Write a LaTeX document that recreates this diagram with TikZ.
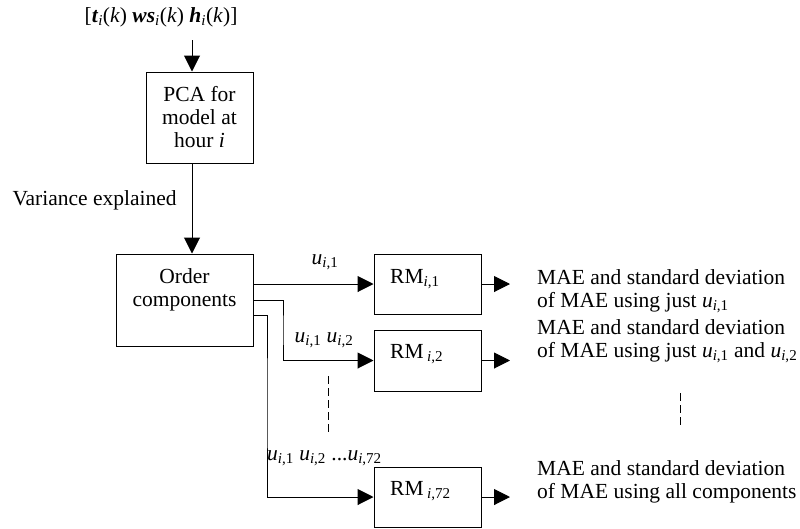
\documentclass[tikz,border=0pt]{standalone}
\usepackage{fontspec}
\setmainfont{Liberation Serif}
\usetikzlibrary{arrows.meta}
\newcommand\myu[1]{\textit{u}\textsubscript{\textit{i},#1}}
\newcommand\bi[1]{\textbf{\textit{#1}}}
\begin{document}
\begin{tikzpicture}[x=1pt,y=-1pt,
  every node/.style={font=\fontsize{21.5}{23}\selectfont},
  blk/.style={draw,line width=1pt,inner sep=0pt},
  conn/.style={line width=1pt},
  arr/.style={conn,-{Triangle[length=16pt,width=16pt]}},
  dsh/.style={line width=1pt,dash pattern=on 8pt off 4pt}]
\useasboundingbox (0,0) rectangle (800,528);
% input
\node (in) at (161,17) {[\bi{t}\textsubscript{\textit{i}}(\textit{k}) \bi{ws}\textsubscript{\textit{i}}(\textit{k}) \bi{h}\textsubscript{\textit{i}}(\textit{k})]};
\coordinate (intop) at (192,40);
\coordinate (ax) at (192,0);
% PCA box
\node[blk,minimum width=107pt,minimum height=91pt,align=center] (pca) at (199.5,117.5) {PCA for\\model at\\hour \textit{i}};
\node[anchor=base west] (var) at (9,205) {Variance explained};
% Order box
\node[blk,minimum width=137pt,minimum height=92pt] (order) at (184.5,300) {};
\node[align=center] (ordtxt) at (184.5,290) {Order\\components};
% RM boxes
\node[blk,minimum width=107pt,minimum height=60pt] (rm1) at (427.5,284) {};
\node[blk,minimum width=107pt,minimum height=61pt] (rm2) at (427.5,360.5) {};
\node[blk,minimum width=107pt,minimum height=60pt] (rm72) at (427.5,497) {};
\node[anchor=base west,inner sep=0pt] (rm1t) at (390,283) {RM\textsubscript{\textit{i},1}};
\node[anchor=base west,inner sep=0pt] (rm2t) at (390,358) {RM\,\textsubscript{\textit{i},2}};
\node[anchor=base west,inner sep=0pt] (rm72t) at (390,495) {RM\,\textsubscript{\textit{i},72}};
% input arrows
\draw[arr] (intop) -- (pca.north -| ax);
\draw[arr] (pca.south -| ax) -- (order.north -| ax);
% branches
\coordinate (o1) at (253,284);
\coordinate (o2) at (253,300);
\coordinate (o3) at (253,315);
\draw[arr] (o1) -- (rm1.west);
\draw[arr] (o2) -| (283,330) |- (rm2.west);
\draw[arr] (o3) -| (267,400) |- (rm72.west);
% branch labels
\node (l1) at (325,262) {\myu{1}};
\node (l2) at (324,340) {\myu{1} \myu{2}};
\node[anchor=west,inner sep=0pt] (l3) at (267,458) {\myu{1} \myu{2} ...\myu{72}};
% dashed
\coordinate (d1a) at (328,376);
\coordinate (d1b) at (328,435);
\draw[dsh] (d1a) -- (d1b);
\coordinate (d2a) at (680,393);
\coordinate (d2b) at (680,425);
\draw[dsh] (d2a) -- (d2b);
% outputs
\coordinate (e1) at (510,284);
\coordinate (e2) at (510,360.5);
\coordinate (e3) at (510,497);
\draw[arr] (rm1.east) -- (e1);
\draw[arr] (rm2.east) -- (e2);
\draw[arr] (rm72.east) -- (e3);
\node[anchor=base west,align=left,inner sep=0pt] (t1) at (537,307) {MAE and standard deviation\\of MAE using just \myu{1}};
\node[anchor=base west,align=left,inner sep=0pt] (t2) at (537,357) {MAE and standard deviation\\of MAE using just \myu{1} and \myu{2}};
\node[anchor=base west,align=left,inner sep=0pt] (t3) at (537,498) {MAE and standard deviation\\of MAE using all components};
\end{tikzpicture}
\end{document}
